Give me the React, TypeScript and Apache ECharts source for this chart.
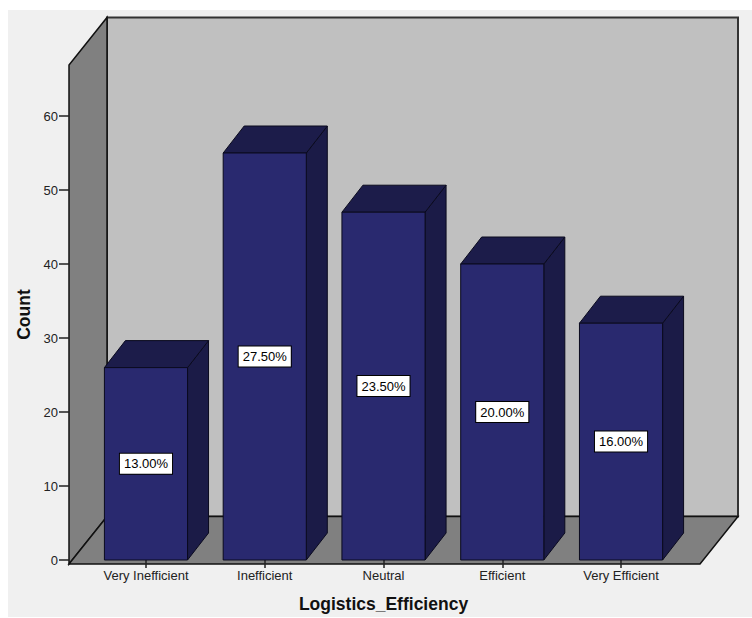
import React, { useEffect, useRef } from "react";
import * as echarts from "echarts";

// Survey responses for logistics efficiency
const categories = ["Very Inefficient", "Inefficient", "Neutral", "Efficient", "Very Efficient"];
const counts = [26, 55, 47, 40, 32];
const yTicks = { min: 0, max: 60, interval: 10 };

const total = counts.reduce((a, b) => a + b, 0);

const W = 752;
const H = 618;
// plot frame (front floor edge and wall depth)
const FRONT_LEFT = 69;
const FRONT_RIGHT = 700;
const FRONT_BOTTOM = 564;
const WALL_DX = 38;
const WALL_DY = -47.5;
const WALL_TOP_FRONT = 65;
// band area of the bars
const BAND_LEFT = 86.6;
const BAND_RIGHT = 680.4;
const GRID_TOP = 116;
// bar depth
const BAR_DX = 21;
const BAR_DY = -27;

const FONT = '"Liberation Sans", Arial, sans-serif';

export default function App() {
  const ref = useRef<HTMLDivElement>(null);

  useEffect(() => {
    if (!ref.current) return;
    const chart = echarts.init(ref.current, undefined, { renderer: "svg" });
    const edge = "#333333";
    const backL = FRONT_LEFT + WALL_DX;
    const backR = FRONT_RIGHT + WALL_DX;
    const backB = FRONT_BOTTOM + WALL_DY;
    const backT = WALL_TOP_FRONT + WALL_DY;

    const option: any = {
      animation: false,
      backgroundColor: "#ffffff",
      grid: {
        left: BAND_LEFT,
        right: W - BAND_RIGHT,
        top: GRID_TOP,
        bottom: H - FRONT_BOTTOM,
        containLabel: false,
      },
      xAxis: {
        type: "category",
        data: categories,
        boundaryGap: true,
        axisLine: { show: false },
        axisTick: { show: true, alignWithLabel: true, length: 8, lineStyle: { color: "#222", width: 1.5 } },
        axisLabel: { color: "#222", fontSize: 13, fontFamily: FONT, margin: 9, interval: 0 },
        name: "Logistics_Efficiency",
        nameLocation: "middle",
        nameGap: 35,
        nameTextStyle: { color: "#111", fontSize: 17.5, fontWeight: "bold", fontFamily: FONT },
        splitLine: { show: false },
      },
      yAxis: {
        type: "value",
        min: yTicks.min,
        max: yTicks.max,
        interval: yTicks.interval,
        offset: BAND_LEFT - FRONT_LEFT,
        axisLine: { show: false },
        axisTick: { show: true, length: 10, lineStyle: { color: "#222", width: 1.5 } },
        axisLabel: { color: "#222", fontSize: 13, fontFamily: FONT, margin: 11 },
        splitLine: { show: false },
      },
      graphic: [
        {
          type: "rect",
          z: -30,
          shape: { x: 8, y: 10, width: W - 8, height: 607 },
          style: { fill: "#f0f0f0" },
          silent: true,
        },
        {
          type: "rect",
          z: -20,
          shape: { x: backL, y: backT, width: backR - backL, height: backB - backT },
          style: { fill: "#c0c0c0", stroke: edge, lineWidth: 2 },
          silent: true,
        },
        {
          type: "polygon",
          z: -19,
          shape: {
            points: [
              [FRONT_LEFT, FRONT_BOTTOM],
              [FRONT_LEFT, WALL_TOP_FRONT],
              [backL, backT],
              [backL, backB],
            ],
          },
          style: { fill: "#808080", stroke: "#111", lineWidth: 1.5 },
          silent: true,
        },
        {
          type: "polygon",
          z: -18,
          shape: {
            points: [
              [FRONT_LEFT, FRONT_BOTTOM],
              [backL, backB],
              [backR, backB],
              [FRONT_RIGHT, FRONT_BOTTOM],
            ],
          },
          style: { fill: "#808080", stroke: "#111", lineWidth: 1.5, lineJoin: "miter" },
          silent: true,
        },
        {
          type: "text",
          z: 10,
          x: 24,
          y: (WALL_TOP_FRONT + FRONT_BOTTOM) / 2,
          rotation: Math.PI / 2,
          style: {
            text: "Count",
            align: "center",
            verticalAlign: "middle",
            fill: "#111",
            fontSize: 17.5,
            fontWeight: "bold",
            fontFamily: FONT,
          },
        },
      ],
      series: [
        {
          type: "custom",
          clip: false,
          data: counts.map((c, i) => [i, c]),
          renderItem: (params: any, api: any) => {
            const i = api.value(0);
            const v = api.value(1);
            const top = api.coord([i, v]);
            const base = api.coord([i, 0]);
            const w = api.size([1, 0])[0] * 0.7;
            const x0 = top[0] - w / 2;
            const x1 = top[0] + w / 2;
            const y0 = top[1];
            const y1 = base[1];
            const pct = ((v / total) * 100).toFixed(2) + "%";
            const stroke = { stroke: "#0a0a1e", lineWidth: 1 };
            return {
              type: "group",
              children: [
                {
                  type: "polygon",
                  shape: { points: [[x1, y0], [x1 + BAR_DX, y0 + BAR_DY], [x1 + BAR_DX, y1 + BAR_DY], [x1, y1]] },
                  style: { fill: "#1b1b47", ...stroke },
                },
                {
                  type: "polygon",
                  shape: { points: [[x0, y0], [x0 + BAR_DX, y0 + BAR_DY], [x1 + BAR_DX, y0 + BAR_DY], [x1, y0]] },
                  style: { fill: "#1c1c4a", ...stroke },
                },
                {
                  type: "rect",
                  shape: { x: x0, y: y0, width: w, height: y1 - y0 },
                  style: { fill: "#29296f", ...stroke },
                },
                {
                  type: "text",
                  x: top[0],
                  y: (y0 + y1) / 2,
                  style: {
                    text: pct,
                    align: "center",
                    verticalAlign: "middle",
                    fill: "#000",
                    fontSize: 13,
                    fontFamily: FONT,
                    backgroundColor: "#ffffff",
                    borderColor: "#000",
                    borderWidth: 1,
                    padding: [4, 4, 3, 4],
                  },
                },
              ],
            };
          },
        },
      ],
    };
    chart.setOption(option);
    return () => chart.dispose();
  }, []);

  return (
    <div
      ref={ref}
      style={{ position: "absolute", left: 0, top: 0, width: W, height: H }}
    />
  );
}
